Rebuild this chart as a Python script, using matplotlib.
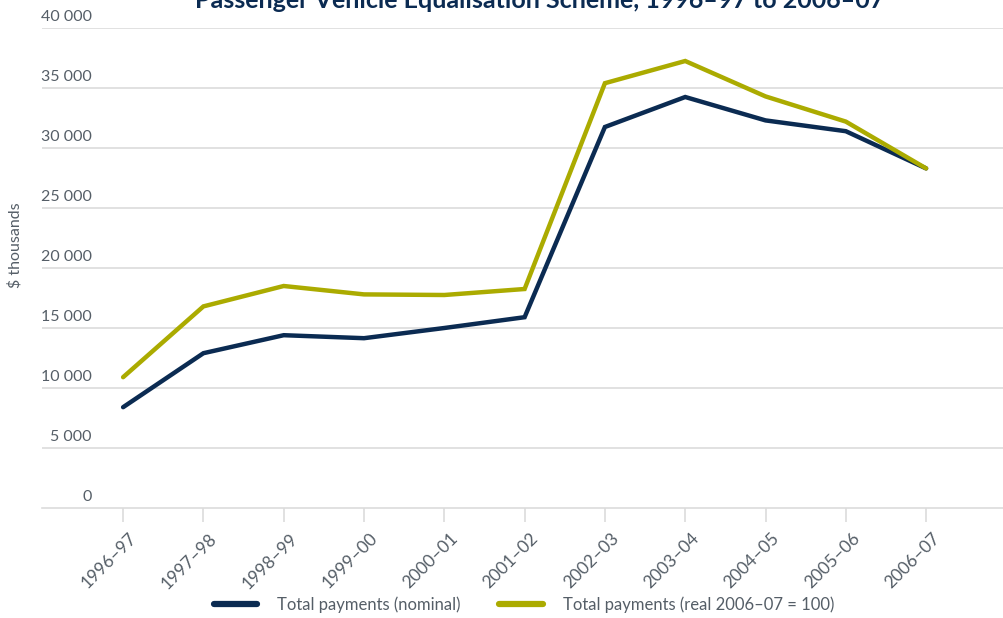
import matplotlib
matplotlib.use('Agg')
import matplotlib.pyplot as plt
import matplotlib.transforms as mtransforms
from matplotlib.lines import Line2D

years = ['1996–97', '1997–98', '1998–99', '1999–00', '2000–01', '2001–02',
         '2002–03', '2003–04', '2004–05', '2005–06', '2006–07']
nominal = [8400, 12900, 14400, 14150, 15000, 15900, 31750, 34250, 32300, 31400, 28300]
real = [10900, 16800, 18500, 17800, 17750, 18250, 35400, 37250, 34300, 32200, 28300]
yticks = [0, 5000, 10000, 15000, 20000, 25000, 30000, 35000, 40000]

NAVY = '#0b2b52'
OLIVE = '#abab00'
GREY = '#555e67'
GRID = '#dcdcdc'

plt.rcParams['font.family'] = ['Lato', 'DejaVu Sans']

fig = plt.figure(figsize=(10.04, 6.18), dpi=100)
ax = fig.add_axes([42 / 1004, 1 - 508 / 618, 1 - 42 / 1004, 480 / 618])

xs = list(range(len(years)))
ax.plot(xs, nominal, color=NAVY, lw=3.2, solid_capstyle='round', solid_joinstyle='miter', zorder=3)
ax.plot(xs, real, color=OLIVE, lw=3.2, solid_capstyle='round', solid_joinstyle='miter', zorder=3)

ax.set_xlim(-1.01, 10.97)
ax.set_ylim(0, 40000)

for s in ['top', 'right', 'left']:
    ax.spines[s].set_visible(False)
ax.spines['bottom'].set_color(GRID)
ax.spines['bottom'].set_linewidth(1.2)

ax.set_yticks(yticks)
ax.set_yticklabels([])
ax.tick_params(axis='y', length=0)
for v in yticks:
    if v > 0:
        ax.axhline(v, color=GRID, lw=1.2, zorder=1)
    lab = '{:,}'.format(v).replace(',', ' ')
    ax.text(50 / 962, v + 350, lab, transform=ax.get_yaxis_transform(),
            ha='right', va='bottom', fontsize=11.5, color=GREY)

ax.set_xticks(xs)
ax.set_xticklabels(years, rotation=45, ha='right', rotation_mode='anchor',
                   fontsize=12.5, color=GREY)
ax.tick_params(axis='x', length=10, width=1.2, color=GRID, pad=6)
shift = mtransforms.ScaledTranslation(4 / 72, 0, fig.dpi_scale_trans)
for lbl in ax.get_xticklabels():
    lbl.set_transform(lbl.get_transform() + shift)

fig.text(15 / 1004, 1 - 245 / 618, '$ thousands', rotation=90, ha='center', va='center',
         fontsize=11.5, color=GREY)

fig.text(540 / 1004, 1 - 8 / 618,
         'Passenger Vehicle Equalisation Scheme, 1996–97 to 2006–07',
         ha='center', va='baseline', fontsize=18, fontweight='bold', color=NAVY)

handles = [Line2D([], [], color=NAVY, lw=4.5, solid_capstyle='round'),
           Line2D([], [], color=OLIVE, lw=4.5, solid_capstyle='round')]
fig.legend(handles, ['Total payments (nominal)', 'Total payments (real 2006–07 = 100)'],
           loc='center', bbox_to_anchor=(524 / 1004, 1 - 605 / 618), ncol=2,
           frameon=False, fontsize=12, handlelength=2.6, handletextpad=1.2,
           columnspacing=2.3, labelcolor=GREY)

fig.savefig('out.png', dpi=100)
